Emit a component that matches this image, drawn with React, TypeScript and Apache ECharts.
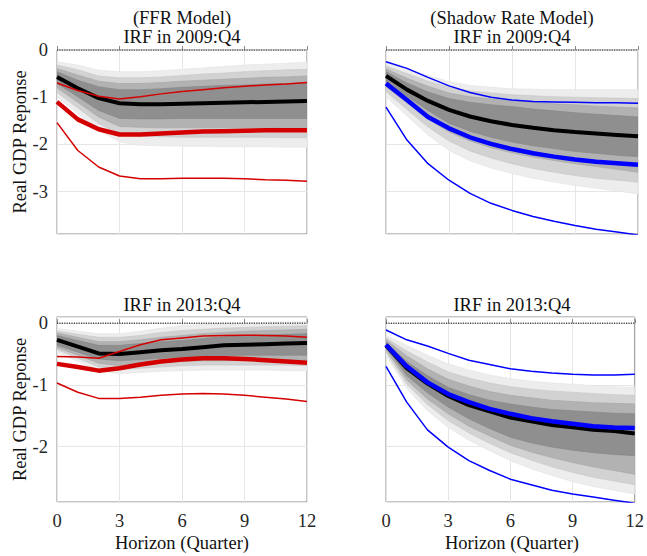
import React, { useEffect, useRef } from 'react';
import * as echarts from 'echarts';

// ---------- data ----------
const HORIZON = [0, 1, 2, 3, 4, 5, 6, 7, 8, 9, 10, 11, 12];
const X_TICKS = [0, 3, 6, 9, 12];
const Y_TICKS_TOP = [0, -1, -2, -3];
const Y_TICKS_BOTTOM = [0, -1, -2];
const TOP_TITLES = ['(FFR Model)', '(Shadow Rate Model)'];
const TITLE_2009 = 'IRF in 2009:Q4';
const TITLE_2013 = 'IRF in 2013:Q4';
const Y_NAME = 'Real GDP Reponse';
const X_NAME = 'Horizon (Quarter)';

// Panel A: FFR model, 2009:Q4
const A_MEDIAN = [-0.57, -0.81, -1.02, -1.13, -1.15, -1.15, -1.14, -1.13, -1.12, -1.11, -1.10, -1.09, -1.08];
const A_RED_UP = [-0.70, -0.86, -0.98, -1.04, -0.99, -0.93, -0.88, -0.84, -0.80, -0.77, -0.74, -0.72, -0.69];
const A_RED_MID = [-1.10, -1.47, -1.68, -1.79, -1.79, -1.77, -1.75, -1.73, -1.72, -1.71, -1.70, -1.70, -1.70];
const A_RED_LOW = [-1.54, -2.13, -2.48, -2.67, -2.73, -2.73, -2.72, -2.72, -2.72, -2.73, -2.75, -2.76, -2.78];
const A_OUT_UP = [-0.25, -0.32, -0.43, -0.46, -0.46, -0.44, -0.41, -0.38, -0.35, -0.32, -0.30, -0.28, -0.26];
const A_M2_UP = [-0.32, -0.42, -0.55, -0.59, -0.59, -0.57, -0.54, -0.51, -0.49, -0.46, -0.44, -0.42, -0.41];
const A_M1_UP = [-0.39, -0.53, -0.66, -0.71, -0.71, -0.69, -0.66, -0.64, -0.62, -0.60, -0.58, -0.57, -0.55];
const A_CORE_UP = [-0.46, -0.64, -0.78, -0.84, -0.84, -0.82, -0.79, -0.77, -0.75, -0.74, -0.72, -0.71, -0.70];
const A_CORE_LOW = [-0.71, -0.99, -1.28, -1.45, -1.46, -1.46, -1.45, -1.45, -1.45, -1.45, -1.45, -1.45, -1.45];
const A_M1_LOW = [-0.80, -1.11, -1.42, -1.62, -1.64, -1.65, -1.65, -1.65, -1.65, -1.65, -1.65, -1.66, -1.66];
const A_M2_LOW = [-0.90, -1.23, -1.56, -1.78, -1.83, -1.84, -1.85, -1.85, -1.85, -1.85, -1.85, -1.86, -1.86];
const A_OUT_LOW = [-0.99, -1.35, -1.70, -1.95, -2.02, -2.03, -2.04, -2.04, -2.05, -2.05, -2.05, -2.06, -2.06];

// Panel B: Shadow rate model, 2009:Q4
const B_MEDIAN = [-0.55, -0.84, -1.08, -1.27, -1.41, -1.51, -1.59, -1.65, -1.70, -1.74, -1.77, -1.80, -1.83];
const B_BLUE_UP = [-0.25, -0.39, -0.58, -0.76, -0.90, -1.00, -1.06, -1.09, -1.10, -1.11, -1.12, -1.12, -1.13];
const B_BLUE_MID = [-0.71, -1.06, -1.42, -1.66, -1.85, -1.99, -2.10, -2.19, -2.26, -2.32, -2.37, -2.40, -2.43];
const B_BLUE_LOW = [-1.21, -1.91, -2.41, -2.76, -3.04, -3.25, -3.40, -3.53, -3.63, -3.72, -3.80, -3.86, -3.92];
const B_OUT_UP = [-0.28, -0.40, -0.54, -0.67, -0.75, -0.79, -0.82, -0.83, -0.84, -0.84, -0.84, -0.84, -0.84];
const B_M2_UP = [-0.34, -0.50, -0.66, -0.79, -0.87, -0.91, -0.95, -0.97, -0.99, -1.00, -1.01, -1.02, -1.03];
const B_M1_UP = [-0.40, -0.60, -0.77, -0.91, -0.99, -1.04, -1.07, -1.11, -1.14, -1.16, -1.19, -1.21, -1.23];
const B_CORE_UP = [-0.46, -0.70, -0.89, -1.03, -1.11, -1.16, -1.20, -1.25, -1.29, -1.33, -1.36, -1.39, -1.42];
const B_CORE_LOW = [-0.67, -0.98, -1.28, -1.55, -1.72, -1.85, -1.95, -2.03, -2.09, -2.15, -2.19, -2.23, -2.26];
const B_M1_LOW = [-0.78, -1.12, -1.46, -1.74, -1.93, -2.07, -2.18, -2.27, -2.34, -2.41, -2.47, -2.53, -2.59];
const B_M2_LOW = [-0.88, -1.26, -1.63, -1.93, -2.14, -2.29, -2.41, -2.51, -2.59, -2.66, -2.72, -2.76, -2.80];
const B_OUT_LOW = [-0.99, -1.40, -1.80, -2.13, -2.35, -2.50, -2.62, -2.72, -2.80, -2.87, -2.93, -2.99, -3.05];

// Panel C: FFR model, 2013:Q4
const C_MEDIAN = [-0.27, -0.38, -0.49, -0.50, -0.47, -0.44, -0.42, -0.39, -0.36, -0.35, -0.34, -0.33, -0.32];
const C_RED_UP = [-0.54, -0.55, -0.57, -0.46, -0.35, -0.27, -0.24, -0.21, -0.20, -0.195, -0.20, -0.21, -0.23];
const C_RED_MID = [-0.66, -0.71, -0.77, -0.73, -0.67, -0.62, -0.59, -0.57, -0.57, -0.58, -0.60, -0.62, -0.64];
const C_RED_LOW = [-0.97, -1.12, -1.22, -1.22, -1.20, -1.17, -1.15, -1.14, -1.15, -1.17, -1.20, -1.23, -1.27];
const C_OUT_UP = [-0.09, -0.13, -0.17, -0.17, -0.13, -0.08, -0.04, -0.02, -0.01, 0.0, 0.01, 0.02, 0.02];
const C_M2_UP = [-0.13, -0.18, -0.23, -0.23, -0.20, -0.15, -0.12, -0.10, -0.08, -0.07, -0.06, -0.05, -0.04];
const C_M1_UP = [-0.16, -0.23, -0.30, -0.30, -0.27, -0.23, -0.20, -0.17, -0.15, -0.13, -0.12, -0.11, -0.10];
const C_CORE_UP = [-0.20, -0.28, -0.36, -0.36, -0.33, -0.30, -0.28, -0.25, -0.22, -0.20, -0.19, -0.18, -0.17];
const C_CORE_LOW = [-0.36, -0.47, -0.58, -0.61, -0.59, -0.57, -0.55, -0.54, -0.53, -0.52, -0.52, -0.52, -0.52];
const C_M1_LOW = [-0.40, -0.52, -0.65, -0.69, -0.66, -0.64, -0.62, -0.61, -0.61, -0.60, -0.60, -0.60, -0.60];
const C_M2_LOW = [-0.43, -0.57, -0.71, -0.75, -0.73, -0.71, -0.69, -0.68, -0.68, -0.68, -0.68, -0.68, -0.69];
const C_OUT_LOW = [-0.47, -0.62, -0.77, -0.82, -0.80, -0.78, -0.77, -0.76, -0.76, -0.76, -0.76, -0.77, -0.77];

// Panel D: Shadow rate model, 2013:Q4
const D_MEDIAN = [-0.36, -0.73, -0.98, -1.18, -1.33, -1.43, -1.53, -1.59, -1.65, -1.69, -1.73, -1.75, -1.79];
const D_BLUE_UP = [-0.11, -0.27, -0.37, -0.49, -0.60, -0.67, -0.74, -0.78, -0.81, -0.83, -0.84, -0.84, -0.83];
const D_BLUE_MID = [-0.35, -0.70, -0.96, -1.15, -1.28, -1.39, -1.47, -1.54, -1.59, -1.63, -1.67, -1.69, -1.70];
const D_BLUE_LOW = [-0.70, -1.28, -1.73, -2.01, -2.23, -2.39, -2.53, -2.62, -2.71, -2.77, -2.82, -2.87, -2.92];
const D_OUT_UP = [-0.20, -0.36, -0.52, -0.66, -0.76, -0.84, -0.90, -0.94, -0.97, -0.99, -1.01, -1.03, -1.04];
const D_M2_UP = [-0.24, -0.45, -0.63, -0.79, -0.89, -0.97, -1.03, -1.07, -1.10, -1.12, -1.14, -1.16, -1.17];
const D_M1_UP = [-0.27, -0.53, -0.74, -0.91, -1.02, -1.11, -1.17, -1.21, -1.25, -1.27, -1.29, -1.30, -1.31];
const D_CORE_UP = [-0.31, -0.62, -0.85, -1.04, -1.16, -1.25, -1.31, -1.36, -1.40, -1.42, -1.44, -1.46, -1.47];
const D_CORE_LOW = [-0.39, -0.85, -1.13, -1.36, -1.55, -1.71, -1.85, -1.94, -2.01, -2.06, -2.10, -2.13, -2.15];
const D_M1_LOW = [-0.43, -0.92, -1.23, -1.47, -1.67, -1.83, -1.98, -2.09, -2.18, -2.26, -2.33, -2.39, -2.45];
const D_M2_LOW = [-0.47, -0.99, -1.32, -1.58, -1.78, -1.95, -2.10, -2.22, -2.33, -2.42, -2.50, -2.56, -2.62];
const D_OUT_LOW = [-0.52, -1.06, -1.42, -1.69, -1.90, -2.07, -2.23, -2.36, -2.47, -2.57, -2.65, -2.71, -2.77];

// ---------- styling / layout ----------
const FONT = '"Liberation Serif", "Times New Roman", serif';
const FS = 18.5;
const BAND_COLORS = ['#ededed', '#d2d2d2', '#b2b2b2', '#8f8f8f'];
const BAND_STROKES = ['#e3e3e3', '#c6c6c6', '#a4a4a4', '#858585'];
const RED = '#d40000';
const BLUE = '#0000ff';

type Panel = {
  grid: { left: number; top: number; width: number; height: number };
  yMin: number;
  yMax: number;
  yTicks: number[];
  showX: boolean;
  showY: boolean;
  median: number[];
  colUp: number[];
  colMid: number[];
  colLow: number[];
  color: string;
  bands: [number[], number[]][];
};

const PANELS: Panel[] = [
  {
    grid: { left: 57, top: 50, width: 250, height: 184 },
    yMin: -3.9, yMax: 0, yTicks: Y_TICKS_TOP, showX: false, showY: true,
    median: A_MEDIAN, colUp: A_RED_UP, colMid: A_RED_MID, colLow: A_RED_LOW, color: RED,
    bands: [[A_OUT_UP, A_OUT_LOW], [A_M2_UP, A_M2_LOW], [A_M1_UP, A_M1_LOW], [A_CORE_UP, A_CORE_LOW]],
  },
  {
    grid: { left: 386, top: 50, width: 252, height: 184 },
    yMin: -3.9, yMax: 0, yTicks: Y_TICKS_TOP, showX: false, showY: false,
    median: B_MEDIAN, colUp: B_BLUE_UP, colMid: B_BLUE_MID, colLow: B_BLUE_LOW, color: BLUE,
    bands: [[B_OUT_UP, B_OUT_LOW], [B_M2_UP, B_M2_LOW], [B_M1_UP, B_M1_LOW], [B_CORE_UP, B_CORE_LOW]],
  },
  {
    grid: { left: 57, top: 317, width: 250, height: 185 },
    yMin: -2.9, yMax: 0.1, yTicks: Y_TICKS_BOTTOM, showX: true, showY: true,
    median: C_MEDIAN, colUp: C_RED_UP, colMid: C_RED_MID, colLow: C_RED_LOW, color: RED,
    bands: [[C_OUT_UP, C_OUT_LOW], [C_M2_UP, C_M2_LOW], [C_M1_UP, C_M1_LOW], [C_CORE_UP, C_CORE_LOW]],
  },
  {
    grid: { left: 386, top: 317, width: 252, height: 185 },
    yMin: -2.9, yMax: 0.1, yTicks: Y_TICKS_BOTTOM, showX: true, showY: false,
    median: D_MEDIAN, colUp: D_BLUE_UP, colMid: D_BLUE_MID, colLow: D_BLUE_LOW, color: BLUE,
    bands: [[D_OUT_UP, D_OUT_LOW], [D_M2_UP, D_M2_LOW], [D_M1_UP, D_M1_LOW], [D_CORE_UP, D_CORE_LOW]],
  },
];

const pairs = (ys: number[]) => HORIZON.map((x, i) => [x, ys[i]]);

function buildOption() {
  const grids: any[] = [];
  const xAxes: any[] = [];
  const yAxes: any[] = [];
  const series: any[] = [];
  const graphics: any[] = [];

  PANELS.forEach((p, gi) => {
    grids.push({
      ...p.grid,
      show: true,
      borderColor: '#8a8a8a',
      borderWidth: 1,
      backgroundColor: '#ffffff',
      containLabel: false,
    });
    xAxes.push({
      type: 'value',
      gridIndex: gi,
      min: 0,
      max: 12,
      interval: 3,
      axisLine: { show: false },
      axisTick: { show: true, inside: true, length: 4, lineStyle: { color: '#8a8a8a' } },
      axisLabel: {
        show: p.showX,
        margin: 9,
        color: '#262626',
        fontFamily: FONT,
        fontSize: FS,
        formatter: (v: number) => (X_TICKS.includes(v) ? String(v) : ''),
      },
      splitLine: { show: true, lineStyle: { color: '#e6e6e6', width: 1 } },
    });
    yAxes.push({
      type: 'value',
      gridIndex: gi,
      min: p.yMin,
      max: p.yMax,
      splitNumber: p.yMax > 0 ? 3 : 4,
      axisLine: { show: false },
      axisTick: { show: false },
      axisLabel: {
        show: p.showY,
        margin: 9,
        color: '#262626',
        fontFamily: FONT,
        fontSize: FS,
        showMinLabel: true,
        showMaxLabel: true,
        formatter: (v: number) => {
          const r = Math.round(v);
          return Math.abs(v - r) < 1e-6 && p.yTicks.includes(r) ? String(r) : '';
        },
      },
      splitLine: {
        show: true,
        lineStyle: { color: '#e6e6e6', width: 1 },
      },
    });

    p.bands.forEach(([up, low], bi) => {
      series.push({
        type: 'custom',
        xAxisIndex: gi,
        yAxisIndex: gi,
        silent: true,
        z: 2 + bi * 0.01,
        clip: true,
        data: [[0, up[0]]],
        renderItem: (_params: any, api: any) => {
          const pts: number[][] = [];
          for (let i = 0; i < HORIZON.length; i++) pts.push(api.coord([HORIZON[i], up[i]]));
          for (let i = HORIZON.length - 1; i >= 0; i--) pts.push(api.coord([HORIZON[i], low[i]]));
          return {
            type: 'polygon',
            shape: { points: pts },
            style: { fill: BAND_COLORS[bi], stroke: BAND_STROKES[bi], lineWidth: 0.6 },
          };
        },
      });
    });

    const line = (ys: number[], color: string, width: number, z: number, type: any = 'solid') => ({
      type: 'line',
      xAxisIndex: gi,
      yAxisIndex: gi,
      data: pairs(ys),
      showSymbol: false,
      symbol: 'none',
      silent: true,
      z,
      lineStyle: { color, width, type },
    });

    series.push(line(p.median, '#000000', 4, 4));
    series.push(line(p.colUp, p.color, 1.5, 5));
    series.push(line(p.colLow, p.color, 1.5, 5));
    series.push(line(p.colMid, p.color, 4.5, 6));
    series.push({
      type: 'line',
      xAxisIndex: gi,
      yAxisIndex: gi,
      data: [[0, 0], [12, 0]],
      showSymbol: false,
      symbol: 'none',
      silent: true,
      z: 7,
      lineStyle: { color: '#000000', width: 1, type: [1.2, 1.2] },
    });

    const cx = p.grid.left + p.grid.width / 2;
    const textStyle = (text: string) => ({
      text,
      fontFamily: FONT,
      fontSize: FS,
      fill: '#111111',
      textAlign: 'center',
      textVerticalAlign: 'middle',
    });
    if (gi < 2) {
      graphics.push({ type: 'text', x: cx, y: 18, style: textStyle(TOP_TITLES[gi]) });
      graphics.push({ type: 'text', x: cx, y: 37, style: textStyle(TITLE_2009) });
    } else {
      graphics.push({ type: 'text', x: cx, y: 305, style: textStyle(TITLE_2013) });
      graphics.push({ type: 'text', x: cx, y: 543, style: textStyle(X_NAME) });
    }
    if (gi % 2 === 0) {
      graphics.push({
        type: 'text',
        x: 20,
        y: p.grid.top + p.grid.height / 2,
        rotation: Math.PI / 2,
        style: textStyle(Y_NAME),
      });
    }
  });

  return {
    animation: false,
    backgroundColor: '#ffffff',
    grid: grids,
    xAxis: xAxes,
    yAxis: yAxes,
    series,
    graphic: graphics,
  };
}

export default function App() {
  const ref = useRef<HTMLDivElement>(null);
  useEffect(() => {
    if (!ref.current) return;
    const chart = echarts.init(ref.current, undefined, { renderer: 'svg' });
    chart.setOption(buildOption() as any);
    return () => chart.dispose();
  }, []);
  return (
    <div
      ref={ref}
      style={{ position: 'fixed', left: 0, top: 0, width: 647, height: 556, background: '#fff' }}
    />
  );
}
